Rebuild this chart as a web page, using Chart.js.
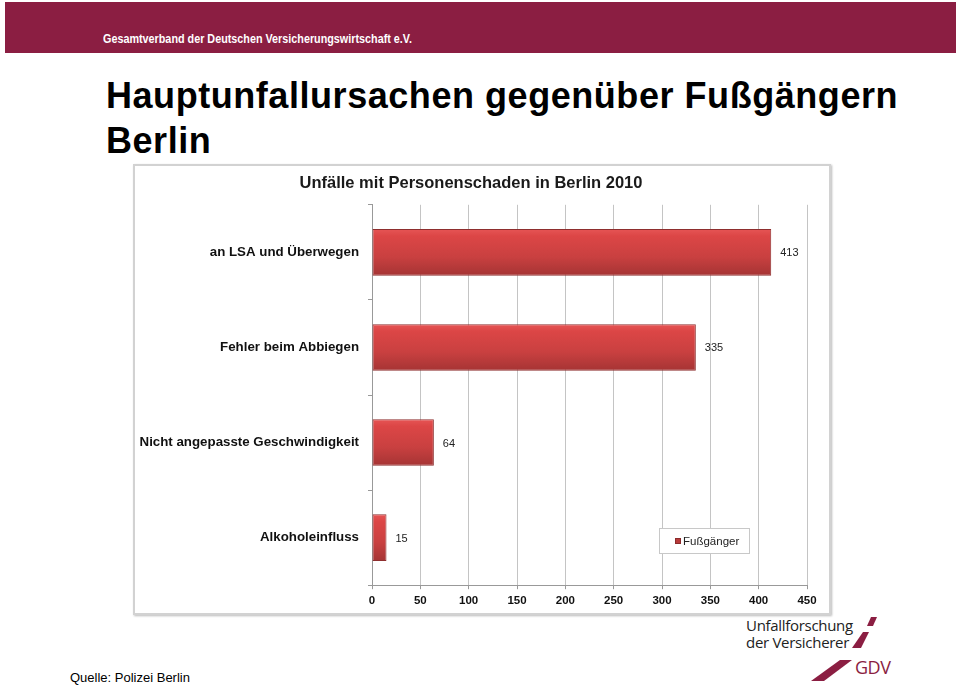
<!DOCTYPE html>
<html>
<head>
<meta charset="utf-8">
<script src="https://cdn.jsdelivr.net/npm/chart.js@4/dist/chart.umd.min.js"></script>
<style>
  html, body { margin: 0; padding: 0; background: #fff; }
  body { width: 960px; height: 686px; position: relative; overflow: hidden; font-family: "Liberation Sans", Arial, sans-serif; }
  #band { position: absolute; left: 5px; top: 2px; width: 951px; height: 51px; background: #8b1e42; }
  #band span { position: absolute; left: 98px; top: 29px; color: #fff; font: bold 13px "Liberation Sans", sans-serif; transform: scaleX(0.83); transform-origin: 0 0; white-space: nowrap; }
  #title { position: absolute; left: 106px; top: 73px; color: #000; font: bold 36px "Liberation Sans", Arial, sans-serif; line-height: 45px; letter-spacing: 0.55px; }
  #box { position: absolute; left: 133px; top: 164px; width: 694px; height: 447px; border: 2px solid #d2d2d2; box-shadow: 1px 1px 2px #bbb; }
  #chart { display: block; }
  #source { position: absolute; left: 70px; top: 670px; font: 13px "Liberation Sans", Arial, sans-serif; color: #000; }
  #logo1 { position: absolute; left: 746px; top: 617px; font: 15px "Open Sans", "DejaVu Sans", sans-serif; line-height: 17px; color: #222; letter-spacing: -0.3px; }
  #logo2 { position: absolute; left: 855px; top: 655px; font: 18px "Open Sans", sans-serif; color: #8b1e42; letter-spacing: -0.5px; }
  #slash { position: absolute; left: 0; top: 0; }
</style>
</head>
<body>
<div id="band"><span>Gesamtverband der Deutschen Versicherungswirtschaft e.V.</span></div>
<div id="title">Hauptunfallursachen gegenüber Fußgängern<br>Berlin</div>
<div id="box"><canvas id="chart" width="694" height="447"></canvas></div>
<div id="source">Quelle: Polizei Berlin</div>
<div id="logo1">Unfallforschung<br>der Versicherer</div>
<div id="logo2">GDV</div>
<svg id="slash" width="960" height="686">
  <polygon points="871,617 877,617 873,626 867,626" fill="#8b1e42"/>
  <polygon points="863,632 869,632 861,648 852,648" fill="#8b1e42"/>
  <polygon points="840,660 852,660 824,681 811,681" fill="#8b1e42"/>
</svg>
<script>
const chartTitle = "Unfälle mit Personenschaden in Berlin 2010";
const categories = ["an LSA und Überwegen", "Fehler beim Abbiegen", "Nicht angepasste Geschwindigkeit", "Alkoholeinfluss"];
const seriesName = "Fußgänger";
const values = [413, 335, 64, 15];
const xTicks = [0, 50, 100, 150, 200, 250, 300, 350, 400, 450];

// gradient per bar, light red top to darker bottom
function barFill(c) {
  const chart = c.chart;
  const y = chart.scales.y;
  if (!y || !chart.chartArea) return "#d04545";
  const mid = y.getPixelForValue(c.dataIndex);
  const half = (y.height / categories.length) * 0.49 / 2;
  const g = chart.ctx.createLinearGradient(0, mid - half, 0, mid + half);
  g.addColorStop(0, "#e65555");
  g.addColorStop(0.15, "#dc4646");
  g.addColorStop(0.6, "#c94040");
  g.addColorStop(1, "#a53434");
  return g;
}

const valueLabels = {
  id: "valueLabels",
  afterDatasetsDraw(chart) {
    const ctx = chart.ctx;
    const meta = chart.getDatasetMeta(0);
    ctx.save();
    ctx.font = "11px 'Liberation Sans', Arial, sans-serif";
    ctx.fillStyle = "#222";
    ctx.textBaseline = "middle";
    meta.data.forEach((bar, i) => {
      ctx.fillText(String(values[i]), bar.x + 9, bar.y + 1);
    });
    ctx.restore();
  }
};

const boxLegend = {
  id: "boxLegend",
  afterDraw(chart) {
    const ctx = chart.ctx;
    const x = 524, y = 362, w = 90, h = 25;
    ctx.save();
    ctx.fillStyle = "#fff";
    ctx.fillRect(x, y, w, h);
    ctx.strokeStyle = "#c8c8c8";
    ctx.lineWidth = 1;
    ctx.strokeRect(x + 0.5, y + 0.5, w, h);
    ctx.fillStyle = "#b83a3a";
    ctx.fillRect(x + 16, y + 10, 6, 6);
    ctx.strokeStyle = "#8b2c2c";
    ctx.strokeRect(x + 16.5, y + 10.5, 5, 5);
    ctx.fillStyle = "#222";
    ctx.font = "11.5px 'Liberation Sans', Arial, sans-serif";
    ctx.textBaseline = "middle";
    ctx.fillText(seriesName, x + 24, y + 13.5);
    ctx.restore();
  }
};

new Chart(document.getElementById("chart"), {
  type: "bar",
  data: {
    labels: categories,
    datasets: [{
      label: seriesName,
      data: values,
      backgroundColor: barFill,
      borderColor: "#8e2e2e",
      borderWidth: 1,
      borderSkipped: false,
      categoryPercentage: 1,
      barPercentage: 0.49
    }]
  },
  options: {
    indexAxis: "y",
    responsive: false,
    animation: false,
    layout: { padding: { left: 0, right: 22, top: 0, bottom: 0 } },
    plugins: {
      legend: { display: false },
      tooltip: { enabled: false },
      title: {
        display: true,
        text: chartTitle,
        color: "#1a1a1a",
        font: { family: "'Liberation Sans', Arial, sans-serif", size: 16.5, weight: "bold" },
        padding: { top: 8, bottom: 11 }
      }
    },
    scales: {
      x: {
        min: 0,
        max: 450,
        afterBuildTicks: (s) => { s.ticks = xTicks.map(v => ({ value: v })); },
        grid: { color: "#c4c4c4", lineWidth: 1, tickLength: 4, tickColor: "#999" },
        border: { color: "#999" },
        ticks: {
          color: "#111",
          padding: 5,
          maxRotation: 0,
          font: { family: "'Liberation Sans', Arial, sans-serif", size: 11.5, weight: "bold" }
        }
      },
      y: {
        afterFit: (s) => { s.width = 237; },
        grid: { drawOnChartArea: false, tickLength: 4, tickColor: "#999" },
        border: { color: "#999" },
        ticks: {
          color: "#111",
          padding: 9,
          font: { family: "'Liberation Sans', Arial, sans-serif", size: 13.3, weight: "bold" }
        }
      }
    }
  },
  plugins: [valueLabels, boxLegend]
});
</script>
</body>
</html>
